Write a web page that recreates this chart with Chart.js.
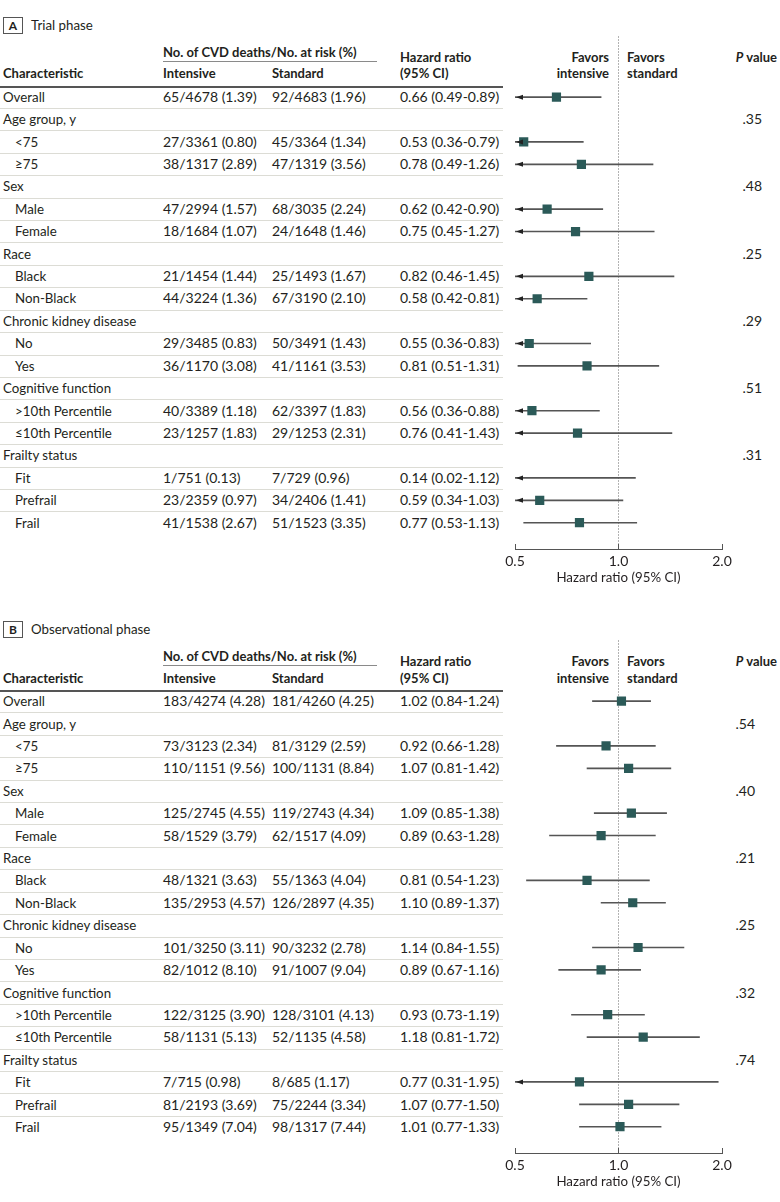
<!DOCTYPE html>
<html>
<head>
<meta charset="utf-8">
<script src="https://cdn.jsdelivr.net/npm/chart.js@4.4.1/dist/chart.umd.min.js"></script>
<style>
  body { margin: 0; background: #fff; }
  #page { position: relative; width: 780px; height: 1202px; overflow: hidden;
          font-family: 'Lato', sans-serif; font-size: 13.3px; color: #231f20; }
  .t { position: absolute; white-space: nowrap; height: 20px; line-height: 20px; }
  .n { font-size: 14px; }
  .b { font-weight: 700; font-size: 13px; }
  .hl { position: absolute; }
  .box { position: absolute; border: 1px solid #555; font-weight: 700; text-align: center;
         font-size: 12px; line-height: 15px; }
  canvas { position: absolute; }
</style>
</head>
<body>
<div id="page"></div>
<script>
// rows shared by both phases
const ROW_LABELS = ['Overall', 'Age group, y', '<75', '≥75', 'Sex', 'Male', 'Female', 'Race', 'Black', 'Non-Black',
  'Chronic kidney disease', 'No', 'Yes', 'Cognitive function', '>10th Percentile', '≤10th Percentile',
  'Frailty status', 'Fit', 'Prefrail', 'Frail'];
const ROW_INDENT = [0, 0, 1, 1, 0, 1, 1, 0, 1, 1, 0, 1, 1, 0, 1, 1, 0, 1, 1, 1];

// A: trial phase
const TRIAL_INTENSIVE = ['65/4678 (1.39)', '', '27/3361 (0.80)', '38/1317 (2.89)', '', '47/2994 (1.57)', '18/1684 (1.07)', '',
  '21/1454 (1.44)', '44/3224 (1.36)', '', '29/3485 (0.83)', '36/1170 (3.08)', '', '40/3389 (1.18)', '23/1257 (1.83)', '',
  '1/751 (0.13)', '23/2359 (0.97)', '41/1538 (2.67)'];
const TRIAL_STANDARD = ['92/4683 (1.96)', '', '45/3364 (1.34)', '47/1319 (3.56)', '', '68/3035 (2.24)', '24/1648 (1.46)', '',
  '25/1493 (1.67)', '67/3190 (2.10)', '', '50/3491 (1.43)', '41/1161 (3.53)', '', '62/3397 (1.83)', '29/1253 (2.31)', '',
  '7/729 (0.96)', '34/2406 (1.41)', '51/1523 (3.35)'];
const TRIAL_HR = [0.66, null, 0.53, 0.78, null, 0.62, 0.75, null, 0.82, 0.58, null, 0.55, 0.81, null, 0.56, 0.76, null, 0.14, 0.59, 0.77];
const TRIAL_LO = [0.49, null, 0.36, 0.49, null, 0.42, 0.45, null, 0.46, 0.42, null, 0.36, 0.51, null, 0.36, 0.41, null, 0.02, 0.34, 0.53];
const TRIAL_HI = [0.89, null, 0.79, 1.26, null, 0.90, 1.27, null, 1.45, 0.81, null, 0.83, 1.31, null, 0.88, 1.43, null, 1.12, 1.03, 1.13];
const TRIAL_P = ['', '.35', '', '', '.48', '', '', '.25', '', '', '.29', '', '', '.51', '', '', '.31', '', '', ''];

// B: observational phase
const OBS_INTENSIVE = ['183/4274 (4.28)', '', '73/3123 (2.34)', '110/1151 (9.56)', '', '125/2745 (4.55)', '58/1529 (3.79)', '',
  '48/1321 (3.63)', '135/2953 (4.57)', '', '101/3250 (3.11)', '82/1012 (8.10)', '', '122/3125 (3.90)', '58/1131 (5.13)', '',
  '7/715 (0.98)', '81/2193 (3.69)', '95/1349 (7.04)'];
const OBS_STANDARD = ['181/4260 (4.25)', '', '81/3129 (2.59)', '100/1131 (8.84)', '', '119/2743 (4.34)', '62/1517 (4.09)', '',
  '55/1363 (4.04)', '126/2897 (4.35)', '', '90/3232 (2.78)', '91/1007 (9.04)', '', '128/3101 (4.13)', '52/1135 (4.58)', '',
  '8/685 (1.17)', '75/2244 (3.34)', '98/1317 (7.44)'];
const OBS_HR = [1.02, null, 0.92, 1.07, null, 1.09, 0.89, null, 0.81, 1.10, null, 1.14, 0.89, null, 0.93, 1.18, null, 0.77, 1.07, 1.01];
const OBS_LO = [0.84, null, 0.66, 0.81, null, 0.85, 0.63, null, 0.54, 0.89, null, 0.84, 0.67, null, 0.73, 0.81, null, 0.31, 0.77, 0.77];
const OBS_HI = [1.24, null, 1.28, 1.42, null, 1.38, 1.28, null, 1.23, 1.37, null, 1.55, 1.16, null, 1.19, 1.72, null, 1.95, 1.50, 1.33];
const OBS_P = ['', '.54', '', '', '.40', '', '', '.21', '', '', '.25', '', '', '.32', '', '', '.74', '', '', ''];

const X_MIN = 0.5;
const X_MAX = 2.0;
const X_TICKS = [0.5, 1.0, 2.0];

// layout (px, relative to panel top)
const ROW_H = 22.42;
const ROW0 = 96.7;
const PLOT_TOP = 36;
const AXIS_Y = 549;
const TABLE_W = 503;
const TEXT = '#231f20';
const MARKER = '#2b5a58';

const panels = [
  { letter: 'A', title: 'Trial phase', top: 0, intensive: TRIAL_INTENSIVE, standard: TRIAL_STANDARD,
    hr: TRIAL_HR, lo: TRIAL_LO, hi: TRIAL_HI, p: TRIAL_P, pRight: 762 },
  { letter: 'B', title: 'Observational phase', top: 604.4, intensive: OBS_INTENSIVE, standard: OBS_STANDARD,
    hr: OBS_HR, lo: OBS_LO, hi: OBS_HI, p: OBS_P, pRight: 755 }
];

const page = document.getElementById('page');

function addText(txt, x, cy, cls, right) {
  const d = document.createElement('div');
  d.className = 't' + (cls ? ' ' + cls : '');
  d.style.top = (cy - 10) + 'px';
  if (right) {
    d.style.right = (780 - x) + 'px';
    d.style.textAlign = 'right';
  } else {
    d.style.left = x + 'px';
  }
  d.innerHTML = txt;
  page.appendChild(d);
  return d;
}

function addLine(x, y, w, h, color) {
  const d = document.createElement('div');
  d.className = 'hl';
  d.style.left = x + 'px';
  d.style.top = y + 'px';
  d.style.width = w + 'px';
  d.style.height = h + 'px';
  d.style.background = color;
  page.appendChild(d);
}

// left arrow where the CI runs past the axis minimum
const ciArrows = {
  id: 'ciArrows',
  afterDatasetsDraw(chart, args, opts) {
    const { ctx, scales: { x, y } } = chart;
    const left = x.getPixelForValue(X_MIN);
    ctx.save();
    ctx.fillStyle = '#222';
    opts.lo.forEach((lo, i) => {
      if (lo === null || lo >= X_MIN) return;
      const py = y.getPixelForValue(i);
      ctx.beginPath();
      ctx.moveTo(left + 1, py);
      ctx.lineTo(left + 8, py - 2.5);
      ctx.lineTo(left + 8, py + 2.5);
      ctx.closePath();
      ctx.fill();
    });
    ctx.restore();
  }
};

function drawPanel(p) {
  const T = p.top;
  // title
  const box = document.createElement('div');
  box.className = 'box';
  box.style.left = '3px';
  box.style.top = (T + 17) + 'px';
  box.style.width = '18px';
  box.style.height = '15px';
  box.textContent = p.letter;
  page.appendChild(box);
  addText(p.title, 31, T + 25);

  // header
  addText('No. of CVD deaths/No. at risk (%)', 163, T + 51.7, 'b');
  addLine(163, T + 61, 214, 1, '#8a8a8a');
  addText('Characteristic', 3, T + 73.3, 'b');
  addText('Intensive', 163, T + 73.3, 'b');
  addText('Standard', 272, T + 73.3, 'b');
  addText('Hazard ratio', 400, T + 56.7, 'b');
  addText('(95% CI)', 400, T + 73.3, 'b');
  addText('Favors', 609, T + 56.7, 'b', true);
  addText('intensive', 609, T + 73.3, 'b', true);
  addText('Favors', 627, T + 56.7, 'b');
  addText('standard', 627, T + 73.3, 'b');
  addText('<i>P</i> value', 777, T + 56.7, 'b', true);
  addLine(0, T + 85.5, TABLE_W, 2, '#555');

  // rows
  ROW_LABELS.forEach((label, i) => {
    const cy = T + ROW0 + i * ROW_H;
    addText(label, ROW_INDENT[i] ? 15 : 3, cy);
    if (p.intensive[i]) addText(p.intensive[i], 163, cy, 'n');
    if (p.standard[i]) addText(p.standard[i], 272, cy, 'n');
    if (p.hr[i] !== null) {
      addText(p.hr[i].toFixed(2) + ' (' + p.lo[i].toFixed(2) + '-' + p.hi[i].toFixed(2) + ')', 400, cy, 'n');
    }
    if (p.p[i]) addText(p.p[i], p.pRight, cy, 'n', true);
    if (i < ROW_LABELS.length - 1) addLine(0, Math.round(cy + ROW_H / 2), TABLE_W, 1, '#dcdcd5');
  });

  // forest plot
  const canvas = document.createElement('canvas');
  const cTop = T + PLOT_TOP - 6;
  canvas.width = 270;
  canvas.height = AXIS_Y - PLOT_TOP + 6 + 40;
  canvas.style.left = '485px';
  canvas.style.top = cTop + 'px';
  page.appendChild(canvas);

  const ciData = [];
  const hrData = [];
  p.hr.forEach((hr, i) => {
    if (hr === null) return;
    ciData.push({ x: [p.lo[i], p.hi[i]], y: i });
    hrData.push({ x: hr, y: i });
  });

  new Chart(canvas, {
    type: 'scatter',
    data: {
      datasets: [
        { type: 'bar', indexAxis: 'y', data: ciData, backgroundColor: '#555', borderWidth: 0,
          barThickness: 1, clip: 0, order: 2 },
        { type: 'scatter', data: hrData, pointStyle: 'rect', pointRadius: 6.5, backgroundColor: MARKER,
          borderWidth: 0, clip: 0, order: 1 }
      ]
    },
    options: {
      responsive: false,
      animation: false,
      events: [],
      layout: { padding: { left: 30, right: 33, top: 6, bottom: 0 } },
      plugins: { legend: { display: false }, tooltip: { enabled: false }, ciArrows: { lo: p.lo } },
      scales: {
        x: {
          type: 'logarithmic', min: X_MIN, max: X_MAX,
          afterBuildTicks: s => { s.ticks = X_TICKS.map(v => ({ value: v })); },
          afterFit: s => { s.height = 40; },
          ticks: { callback: v => Number(v).toFixed(1), color: TEXT, padding: 9, maxRotation: 0, autoSkip: false,
                   font: { family: 'Lato', size: 14 } },
          grid: { color: c => (c.tick && c.tick.value === 1 ? '#666' : 'rgba(0,0,0,0)'), tickColor: '#555',
                  tickLength: -5, lineWidth: 1 },
          border: { color: '#555', dash: [1, 2] },
          title: { display: true, text: 'Hazard ratio (95% CI)', color: TEXT, padding: { top: 0, bottom: 3 },
                   font: { family: 'Lato', size: 13.3 } }
        },
        y: {
          type: 'linear', reverse: true, display: false, offset: false,
          min: (PLOT_TOP - ROW0) / ROW_H, max: (AXIS_Y - ROW0) / ROW_H
        }
      }
    },
    plugins: [ciArrows]
  });
}

panels.forEach(drawPanel);
</script>
</body>
</html>
